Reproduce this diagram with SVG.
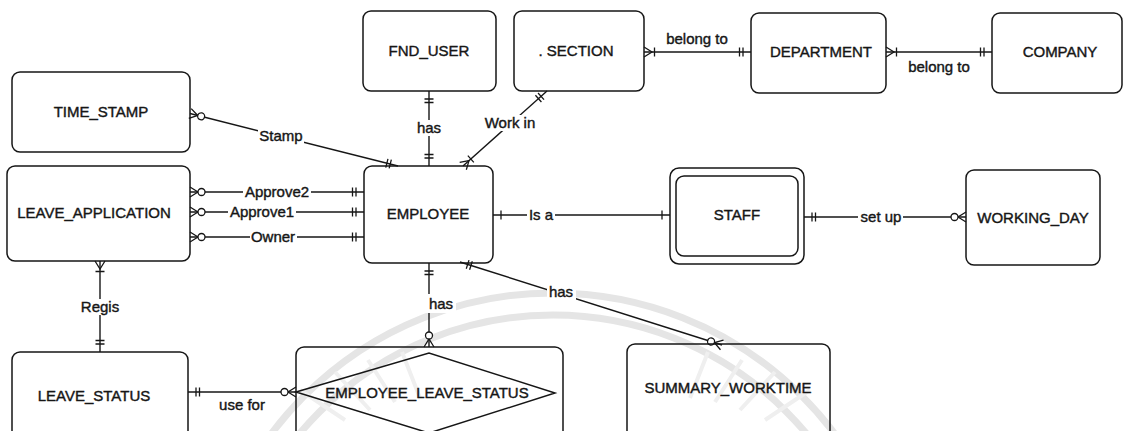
<svg xmlns="http://www.w3.org/2000/svg" width="1124" height="431" viewBox="0 0 1124 431">
  <style>
    .box { fill: none; stroke: #161616; stroke-width: 1.5; }
    .rel { fill: none; stroke: #161616; stroke-width: 1.4; }
    .name { font-family: "Liberation Sans", Arial, sans-serif; font-size: 15px; fill: #161616; stroke: #161616; stroke-width: 0.4; text-anchor: middle; }
    .lbl { font-family: "Liberation Sans", Arial, sans-serif; font-size: 15px; fill: #161616; stroke: #161616; stroke-width: 0.4; text-anchor: middle; }
    .bg { fill: #ffffff; }
    .seal { fill: none; stroke: #e5e5e5; stroke-width: 7; }
    .ray { fill: none; stroke: #efefef; stroke-width: 4; }
  </style>
  <defs>
    <!-- crow's-foot end symbols; +x points into the entity, origin on its edge -->
    <marker id="bar2" markerUnits="userSpaceOnUse" markerWidth="1" markerHeight="1" refX="0" refY="0" orient="auto-start-reverse" overflow="visible">
      <path d="M-8,-4.5 V4.5 M-11.5,-4.5 V4.5" fill="none" stroke="#161616" stroke-width="1.3"/>
    </marker>
    <marker id="bar1" markerUnits="userSpaceOnUse" markerWidth="1" markerHeight="1" refX="0" refY="0" orient="auto-start-reverse" overflow="visible">
      <path d="M-8,-4.5 V4.5" fill="none" stroke="#161616" stroke-width="1.3"/>
    </marker>
    <marker id="zmany" markerUnits="userSpaceOnUse" markerWidth="1" markerHeight="1" refX="0" refY="0" orient="auto-start-reverse" overflow="visible">
      <path d="M0,-5 L-8,0 L0,5" fill="none" stroke="#161616" stroke-width="1.3"/>
      <circle cx="-11.5" cy="0" r="3.5" fill="#ffffff" stroke="#161616" stroke-width="1.3"/>
    </marker>
    <marker id="omany" markerUnits="userSpaceOnUse" markerWidth="1" markerHeight="1" refX="0" refY="0" orient="auto-start-reverse" overflow="visible">
      <path d="M0,-5 L-8,0 L0,5 M-10.5,-4.5 V4.5" fill="none" stroke="#161616" stroke-width="1.3"/>
    </marker>
  </defs>

  <rect width="1124" height="431" fill="#ffffff"/>

  <!-- faint background seal -->
  <g id="seal">
    <circle class="seal" cx="553" cy="645" r="352"/>
    <circle class="seal" cx="553" cy="645" r="330"/>
    <path class="ray" d="M345,420 L300,390 M370,410 L335,372 M395,402 L368,360 M420,398 L402,352 M690,398 L708,352 M715,402 L742,360 M740,410 L775,372 M765,420 L810,390"/>
  </g>

  <!-- relationships -->
  <g id="connectors">
    <g id="rel-stamp">
      <path class="rel" d="M190,113.5 L398,166" marker-start="url(#zmany)" marker-end="url(#bar2)"/>
      <rect class="bg" x="258" y="128" width="46" height="16"/>
      <text class="lbl" x="281" y="141">Stamp</text>
    </g>
    <g id="rel-user">
      <path class="rel" d="M429,91 L429,166" marker-start="url(#bar2)" marker-end="url(#bar2)"/>
      <rect class="bg" x="415" y="120" width="28" height="16"/>
      <text class="lbl" x="429" y="133">has</text>
    </g>
    <g id="rel-workin">
      <path class="rel" d="M547,91 L463,166" marker-start="url(#bar2)" marker-end="url(#omany)"/>
      <rect class="bg" x="482" y="115" width="56" height="16"/>
      <text class="lbl" x="510" y="128">Work in</text>
    </g>
    <g id="rel-sec-dept">
      <path class="rel" d="M644,52 L751,52" marker-start="url(#omany)" marker-end="url(#bar2)"/>
      <text class="lbl" x="697" y="44">belong to</text>
    </g>
    <g id="rel-dept-comp">
      <path class="rel" d="M886,52 L992,52" marker-start="url(#omany)" marker-end="url(#bar2)"/>
      <text class="lbl" x="939" y="72">belong to</text>
    </g>
    <g id="rel-approve2">
      <path class="rel" d="M190,192 L364,192" marker-start="url(#zmany)" marker-end="url(#bar2)"/>
      <rect class="bg" x="243" y="184" width="68" height="16"/>
      <text class="lbl" x="277" y="197">Approve2</text>
    </g>
    <g id="rel-approve1">
      <path class="rel" d="M190,212 L364,212" marker-start="url(#zmany)" marker-end="url(#bar2)"/>
      <rect class="bg" x="228" y="204" width="68" height="16"/>
      <text class="lbl" x="262" y="217">Approve1</text>
    </g>
    <g id="rel-owner">
      <path class="rel" d="M190,237 L364,237" marker-start="url(#zmany)" marker-end="url(#bar2)"/>
      <rect class="bg" x="250" y="229" width="47" height="16"/>
      <text class="lbl" x="273" y="242">Owner</text>
    </g>
    <g id="rel-regis">
      <path class="rel" d="M100,261 L100,352" marker-start="url(#omany)" marker-end="url(#bar2)"/>
      <rect class="bg" x="80" y="299" width="41" height="16"/>
      <text class="lbl" x="100" y="312">Regis</text>
    </g>
    <g id="rel-isa">
      <path class="rel" d="M493,215 L670,215" marker-start="url(#bar1)" marker-end="url(#bar1)"/>
      <rect class="bg" x="527" y="207" width="28" height="16"/>
      <text class="lbl" x="541" y="220">Is a</text>
    </g>
    <g id="rel-setup">
      <path class="rel" d="M804,217 L966,217" marker-start="url(#bar2)" marker-end="url(#zmany)"/>
      <rect class="bg" x="858" y="209" width="45" height="16"/>
      <text class="lbl" x="881" y="222">set up</text>
    </g>
    <g id="rel-emp-els">
      <path class="rel" d="M429,263 L429,347" marker-start="url(#bar2)" marker-end="url(#zmany)"/>
      <rect class="bg" x="424" y="294" width="32" height="19"/>
      <text class="lbl" x="441" y="309">has</text>
    </g>
    <g id="rel-emp-sw">
      <path class="rel" d="M460,262 L722,345" marker-start="url(#bar2)" marker-end="url(#zmany)"/>
      <rect class="bg" x="547" y="284" width="29" height="16"/>
      <text class="lbl" x="561" y="297">has</text>
    </g>
    <g id="rel-usefor">
      <path class="rel" d="M188,392 L296,392" marker-start="url(#bar2)" marker-end="url(#zmany)"/>
      <text class="lbl" x="242" y="410">use for</text>
    </g>
  </g>

  <!-- entities -->
  <g id="time-stamp">
    <rect class="box" x="12" y="72" width="178" height="80" rx="8"/>
    <text class="name" x="101" y="117">TIME_STAMP</text>
  </g>
  <g id="fnd-user">
    <rect class="box" x="363" y="11" width="133" height="80" rx="8"/>
    <text class="name" x="429" y="56">FND_USER</text>
  </g>
  <g id="section">
    <rect class="box" x="514" y="11" width="130" height="80" rx="8"/>
    <text class="name" x="576" y="56">. SECTION</text>
  </g>
  <g id="department">
    <rect class="box" x="751" y="13" width="135" height="80" rx="8"/>
    <text class="name" x="821" y="57">DEPARTMENT</text>
  </g>
  <g id="company">
    <rect class="box" x="992" y="13" width="130" height="80" rx="8"/>
    <text class="name" x="1060" y="57">COMPANY</text>
  </g>
  <g id="leave-application">
    <rect class="box" x="7" y="166" width="183" height="95" rx="8"/>
    <text class="name" x="94" y="218">LEAVE_APPLICATION</text>
  </g>
  <g id="employee">
    <rect class="box" x="364" y="166" width="129" height="97" rx="8"/>
    <text class="name" x="428" y="219">EMPLOYEE</text>
  </g>
  <g id="staff">
    <rect class="box" x="670" y="168" width="134" height="96" rx="9"/>
    <rect class="box" x="676" y="176" width="122" height="80" rx="8"/>
    <text class="name" x="737" y="220">STAFF</text>
  </g>
  <g id="working-day">
    <rect class="box" x="966" y="170" width="134" height="95" rx="8"/>
    <text class="name" x="1033" y="223">WORKING_DAY</text>
  </g>
  <g id="leave-status">
    <rect class="box" x="12" y="352" width="176" height="95" rx="8"/>
    <text class="name" x="94" y="401">LEAVE_STATUS</text>
  </g>
  <g id="employee-leave-status">
    <rect class="box" x="296" y="347" width="267" height="95" rx="8"/>
    <path class="box" d="M296,392 L429,353 L555,393 L429,433 Z"/>
    <text class="name" x="427" y="398">EMPLOYEE_LEAVE_STATUS</text>
  </g>
  <g id="summary-worktime">
    <rect class="box" x="627" y="344" width="203" height="95" rx="8"/>
    <text class="name" x="728" y="393">SUMMARY_WORKTIME</text>
  </g>
</svg>
